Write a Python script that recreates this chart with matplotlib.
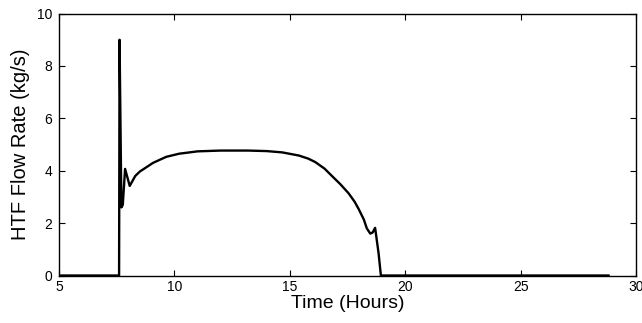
import matplotlib
matplotlib.use('Agg')
import matplotlib.pyplot as plt

# HTF flow rate over the day
time_h = [5.0, 7.60, 7.62, 7.70, 7.76, 7.86, 8.06, 8.30, 8.50, 9.07, 9.64,
          10.2, 11.0, 12.0, 13.2, 14.0, 14.67, 15.39, 15.8, 16.1, 16.5,
          16.82, 17.18, 17.54, 17.8, 17.97, 18.2, 18.33, 18.48, 18.58,
          18.69, 18.84, 18.94, 28.8]
flow = [0.0, 0.0, 9.0, 2.6, 2.7, 4.07, 3.42, 3.8, 3.97, 4.3, 4.53,
        4.65, 4.74, 4.77, 4.77, 4.75, 4.70, 4.58, 4.46, 4.33, 4.08,
        3.8, 3.49, 3.14, 2.82, 2.55, 2.14, 1.8, 1.6, 1.64,
        1.82, 0.85, 0.0, 0.0]

x_ticks = [5, 10, 15, 20, 25, 30]
y_ticks = [0, 2, 4, 6, 8, 10]

plt.rcParams['font.family'] = ['Liberation Sans', 'DejaVu Sans']

fig = plt.figure(figsize=(6.42, 3.23), dpi=100)
ax = fig.add_axes([0.092, 0.147, 0.899, 0.811])
ax.plot(time_h, flow, color='black', linewidth=1.7)
ax.set_xlim(5, 30)
ax.set_ylim(0, 10)
ax.set_xticks(x_ticks)
ax.set_yticks(y_ticks)
ax.tick_params(direction='in', length=4, width=0.8, labelsize=10,
               top=True, right=True, pad=3)
ax.tick_params(axis='y', pad=5)
for s in ax.spines.values():
    s.set_linewidth(1.0)
ax.set_xlabel('Time (Hours)', fontsize=14, labelpad=1)
ax.set_ylabel('HTF Flow Rate (kg/s)', fontsize=14.5, labelpad=5)

fig.savefig('out.png', dpi=100)
